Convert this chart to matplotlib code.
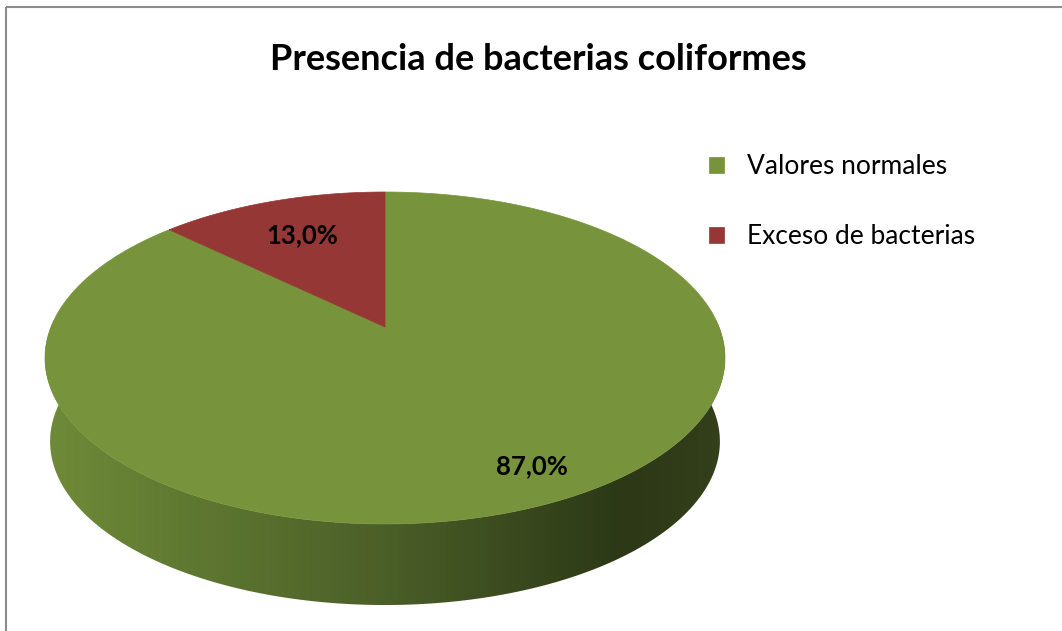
import numpy as np
import matplotlib
matplotlib.use("Agg")
import matplotlib.pyplot as plt
from matplotlib.patches import Polygon, Rectangle
from matplotlib.colors import LinearSegmentedColormap

# ---- data ----
title = "Presencia de bacterias coliformes"
categories = ["Valores normales", "Exceso de bacterias"]
values = [87.0, 13.0]
value_labels = ["87,0%", "13,0%"]
colors = ["#77933C", "#953735"]

# ---- style / geometry ----
W, H = 1062, 631
cx, cy = 385, 327          # pie centre on the top face (pixels)
R, S, k = 334, 160.2, 0.1867  # horizontal radius, vertical radius, perspective
depth, shrink = 84, 0.985
label_r = [0.84, 0.70]
FONT = "Lato"

fig = plt.figure(figsize=(W / 100, H / 100), dpi=100)
ax = fig.add_axes([0, 0, 1, 1])
ax.set_xlim(0, W)
ax.set_ylim(H, 0)
ax.axis("off")


def proj(X, Y, z=0.0, s=1.0):
    X = np.asarray(X, float)
    Y = np.asarray(Y, float)
    den = 1 + k * Y
    return cx + s * R * X / den, cy + z - s * S * Y / den


# ---- side (front rim) ----
t = np.linspace(np.pi * 0.985, 2 * np.pi * 1.0075, 300)
xt, yt = proj(np.cos(t), np.sin(t))
xb, yb = proj(np.cos(t[::-1]), np.sin(t[::-1]), depth, shrink)
side = Polygon(np.column_stack([np.r_[xt, xb], np.r_[yt, yb]]), closed=True,
               facecolor="none", edgecolor="none")
ax.add_patch(side)
cmap = LinearSegmentedColormap.from_list(
    "rim", [(0.0, "#6f8b38"), (0.5, "#4b5f28"), (0.85, "#2c3816"), (1.0, "#343f1b")])
grad = np.linspace(0, 1, 512)[None, :]
im = ax.imshow(grad, cmap=cmap, extent=[xt.min(), xt.max(), yb.max() + 2, yt.min()],
               aspect="auto", zorder=1, interpolation="bilinear")
im.set_clip_path(side)
ax.set_xlim(0, W)
ax.set_ylim(H, 0)

# ---- top face wedges (clockwise from 12 o'clock) ----
frac = np.array(values) / np.sum(values)
starts = np.pi / 2 - 2 * np.pi * np.r_[0, np.cumsum(frac)[:-1]]
ends = starts - 2 * np.pi * frac
wedges = []
for i, (a0, a1) in enumerate(zip(starts, ends)):
    tt = np.linspace(a0, a1, 300)
    px, py = proj(np.cos(tt), np.sin(tt))
    poly = Polygon(np.column_stack([np.r_[cx, px], np.r_[cy, py]]), closed=True,
                   facecolor=colors[i], edgecolor=colors[i], lw=0.5, zorder=2,
                   label=categories[i])
    ax.add_patch(poly)
    wedges.append(poly)
    mid = (a0 + a1) / 2 + (0.06 if i == 0 else 0.0)
    lx, ly = proj(label_r[i] * np.cos(mid), label_r[i] * np.sin(mid))
    ax.text(lx, ly, value_labels[i], ha="center", va="center", fontsize=18.5,
            fontweight="bold", family=FONT, color="black", zorder=3)

# ---- title ----
ax.text(538, 70, title, ha="center", va="baseline", fontsize=26,
        fontweight="bold", family=FONT, color="black")

# ---- legend ----
ax.legend(handles=wedges, labels=categories, loc="upper left",
          bbox_to_anchor=(709, 154), bbox_transform=ax.transData,
          frameon=False, borderpad=0, borderaxespad=0,
          handlelength=0.57, handleheight=0.57, handletextpad=0.87,
          labelspacing=1.72, prop={"family": FONT, "size": 19})

# ---- chart frame ----
ax.add_patch(Rectangle((6, 7), 1200, 800, fill=False, edgecolor="#8c8c8c",
                       lw=1.5, zorder=5))

fig.savefig("out.png", dpi=100)
